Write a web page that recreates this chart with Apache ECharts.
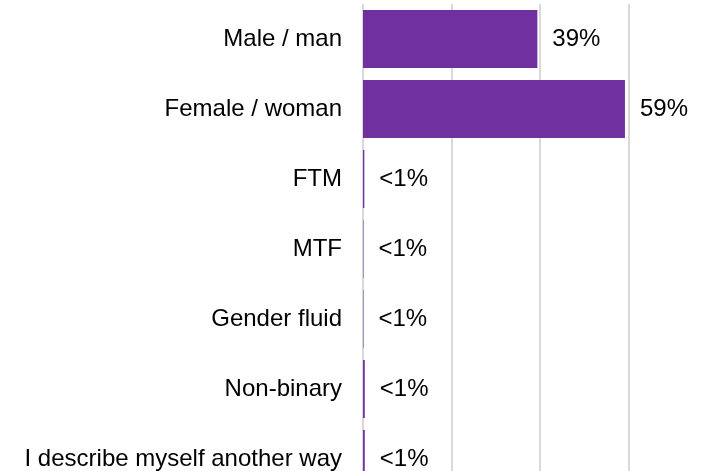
<!DOCTYPE html>
<html>
<head>
<meta charset="utf-8">
<script src="https://cdn.jsdelivr.net/npm/echarts@6/dist/echarts.min.js"></script>
<style>
  html, body { margin: 0; padding: 0; background: #fff; overflow: hidden; }
  /* the chart is a little larger than the window: the reference is cropped at right and bottom */
  #chart { width: 725px; height: 500px; }
</style>
</head>
<body>
<div id="chart"></div>
<script>
  // categories, top to bottom
  const categories = [
    'Male / man',
    'Female / woman',
    'FTM',
    'MTF',
    'Gender fluid',
    'Non-binary',
    'I describe myself another way'
  ];
  // share of respondents (%)
  const shares = [39.4, 59.2, 0.3, 0.1, 0.1, 0.4, 0.4];
  const axisTicks = [0, 20, 40, 60, 80];

  const chart = echarts.init(document.getElementById('chart'));
  chart.setOption({
    animation: false,
    grid: {
      left: 363,
      right: 8,
      top: 4,
      bottom: 6
    },
    xAxis: {
      type: 'value',
      min: axisTicks[0],
      max: axisTicks[axisTicks.length - 1],
      interval: 20,
      axisLabel: { show: false },
      axisTick: { show: false },
      axisLine: { show: false },
      splitLine: {
        lineStyle: { color: '#d9d9d9', width: 2 }
      }
    },
    yAxis: {
      type: 'category',
      data: categories,
      inverse: true,
      axisTick: { show: false },
      axisLine: { show: false },
      axisLabel: {
        margin: 21,
        fontFamily: 'Liberation Sans',
        fontSize: 24,
        color: '#000'
      }
    },
    series: [
      {
        name: 'share',
        type: 'bar',
        data: shares,
        barCategoryGap: '17%',
        itemStyle: { color: '#7030a0' },
        label: {
          show: true,
          position: 'right',
          distance: 15,
          fontFamily: 'Liberation Sans',
          fontSize: 24,
          color: '#000',
          formatter: p => p.value < 1 ? '<1%' : Math.round(p.value) + '%'
        }
      }
    ]
  });
</script>
</body>
</html>
